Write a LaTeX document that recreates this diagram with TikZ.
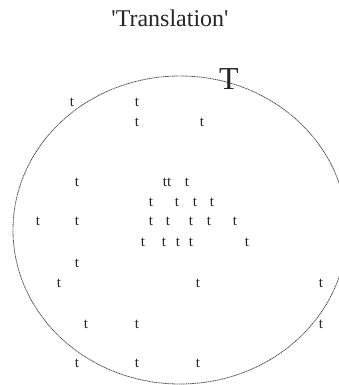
\documentclass[tikz,border=0pt]{standalone}
\usepackage{fontspec}
\setmainfont{Liberation Serif}
\usetikzlibrary{positioning}

\begin{document}
\begin{tikzpicture}[x=1pt, y=-1pt,
    letter/.style={inner sep=0pt, text=black!85, font=\fontsize{15}{15}\selectfont},
    bigletter/.style={inner sep=0pt, text=black!85, font=\fontsize{32}{32}\selectfont},
    boundary/.style={black!70, line width=0.8pt, dash pattern=on 1.2pt off 0.6pt}]
\useasboundingbox (0,0) rectangle (338,385);
\node[inner sep=0pt, text=black!85, font=\fontsize{24}{24}\selectfont] (title) at (170,18)
    {\textquotesingle Translation\textquotesingle};
% outline of the region
\draw[boundary] (180,230) ellipse [x radius=167, y radius=154];
\node[bigletter] (T) at (229,79) {T};
\foreach \x/\y/\txt [count=\i] in {%
    72/102/t, 137/102/t, 137/122/t, 202/122/t,
    77/182/t, 167/182/tt, 187/182/t,
    151/202/t, 177/202/t, 195/202/t, 212/202/t,
    38/221/t, 77/221/t, 151/221/t, 168/221/t, 191/221/t, 209/221/t, 235/221/t,
    143/242/t, 164/242/t, 178/242/t, 191/242/t, 247/242/t,
    77/263/t,
    59/283/t, 198/283/t, 321/283/t,
    86/324/t, 137/324/t, 321/324/t,
    77/363/t, 137/363/t, 198/363/t
} {
    \node[letter] (t\i) at (\x,\y) {\txt};
}
\end{tikzpicture}
\end{document}
